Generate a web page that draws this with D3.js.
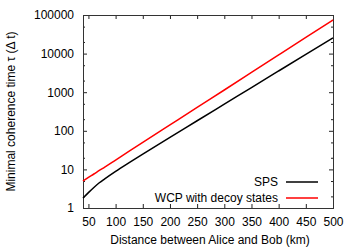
<!DOCTYPE html>
<html>
<head>
<meta charset="utf-8">
<script src="https://cdn.jsdelivr.net/npm/d3@7"></script>
<style>
  body { margin: 0; background: #fff; }
  text { font-family: "Liberation Sans", Arial, sans-serif; fill: #000; }
</style>
</head>
<body>
<div class="canvas"></div>
<script>
// values
const distance = [40, 50, 60, 70, 80, 100, 125, 150, 200, 250, 300, 350, 400, 450, 500];
const sps = [1.8, 2.5, 3.4, 4.5, 5.7, 8.9, 15, 25, 68, 182, 490, 1320, 3550, 9550, 25700];
const wcp = [5.0, 6.2, 7.6, 9.4, 11.5, 17.5, 29.6, 50, 142, 403, 1140, 3240, 9220, 26200, 74200];
const xTicks = [50, 100, 150, 200, 250, 300, 350, 400, 450, 500];
const yTicks = [1, 10, 100, 1000, 10000, 100000];
const legendNames = ['SPS', 'WCP with decoy states'];

const svg = d3.select('.canvas')
    .append('svg')
    .attr('width', 356)
    .attr('height', 249)

const margin = { top: 15, right: 23, bottom: 41, left: 83 };
const graphWidth = 356 - margin.left - margin.right;
const graphHeight = 249 - margin.top - margin.bottom;

const graph = svg.append('g')
    .attr('transform', `translate(${margin.left}, ${margin.top})`)

const x = d3.scaleLinear()
    .domain([40, 500])
    .range([0, graphWidth]);

const y = d3.scaleLog()
    .domain([1, 100000])
    .range([graphHeight, 0]);

// minor ticks at 2 and 5 of every decade
const minorY = [];
yTicks.slice(0, -1).forEach(t => { minorY.push(t * 2, t * 5); });

const tickColor = '#222';
const fontSize = '12px';

// axes (mirrored on all four sides)
const xAxisGroup = graph.append('g').attr('transform', `translate(0, ${graphHeight})`)
    .call(d3.axisBottom(x).tickValues(xTicks).tickSizeInner(-4).tickSizeOuter(0).tickPadding(9));
const xTopGroup = graph.append('g')
    .call(d3.axisTop(x).tickValues(xTicks).tickSizeInner(-4).tickSizeOuter(0).tickFormat(''));
const yAxisGroup = graph.append('g')
    .call(d3.axisLeft(y).tickValues(yTicks).tickSizeInner(-4).tickSizeOuter(0).tickPadding(9)
        .tickFormat(d3.format('d')));
const yRightGroup = graph.append('g').attr('transform', `translate(${graphWidth}, 0)`)
    .call(d3.axisRight(y).tickValues(yTicks).tickSizeInner(-4).tickSizeOuter(0).tickFormat(''));

graph.append('g')
    .call(d3.axisLeft(y).tickValues(minorY).tickSizeInner(-2).tickSizeOuter(0).tickFormat(''));
graph.append('g').attr('transform', `translate(${graphWidth}, 0)`)
    .call(d3.axisRight(y).tickValues(minorY).tickSizeInner(-2).tickSizeOuter(0).tickFormat(''));

graph.selectAll('.domain').remove();
graph.selectAll('.tick line').attr('stroke', tickColor);
graph.selectAll('.tick text')
    .attr('font-size', fontSize)
    .attr('fill', '#000');

// border
graph.append('rect')
    .attr('x', 0.5)
    .attr('y', 0.5)
    .attr('width', graphWidth)
    .attr('height', graphHeight)
    .attr('fill', 'none')
    .attr('stroke', '#333')
    .attr('stroke-width', 1);

// curves
const line = d3.line()
    .x((d, i) => x(distance[i]))
    .y(d => y(d))
    .curve(d3.curveMonotoneX);

const series = [sps, wcp];
const colors = ['#000', '#ff0000'];

graph.selectAll('.curve')
    .data(series)
    .enter()
    .append('path')
    .attr('class', 'curve')
    .attr('d', line)
    .attr('fill', 'none')
    .attr('stroke', (d, i) => colors[i])
    .attr('stroke-width', 1.5);

// legend
const legend = graph.append('g')
    .attr('transform', `translate(${graphWidth - 15}, ${graphHeight - 26})`);

legendNames.forEach((name, i) => {
    const row = legend.append('g').attr('transform', `translate(0, ${i * 16})`);
    row.append('line')
        .attr('x1', -32).attr('x2', 0)
        .attr('stroke', colors[i])
        .attr('stroke-width', 1.5);
    row.append('text')
        .attr('x', -40)
        .attr('dy', '0.35em')
        .attr('text-anchor', 'end')
        .attr('font-size', fontSize)
        .text(name);
});

// titles
svg.append('text')
    .attr('x', margin.left + graphWidth / 2 + 2)
    .attr('y', 244)
    .attr('text-anchor', 'middle')
    .attr('font-size', fontSize)
    .text('Distance between Alice and Bob (km)');

svg.append('text')
    .attr('transform', `translate(15, ${margin.top + graphHeight / 2}) rotate(-90)`)
    .attr('text-anchor', 'middle')
    .attr('font-size', fontSize)
    .text('Minimal coherence time τ (Δ t)');
</script>
</body>
</html>
